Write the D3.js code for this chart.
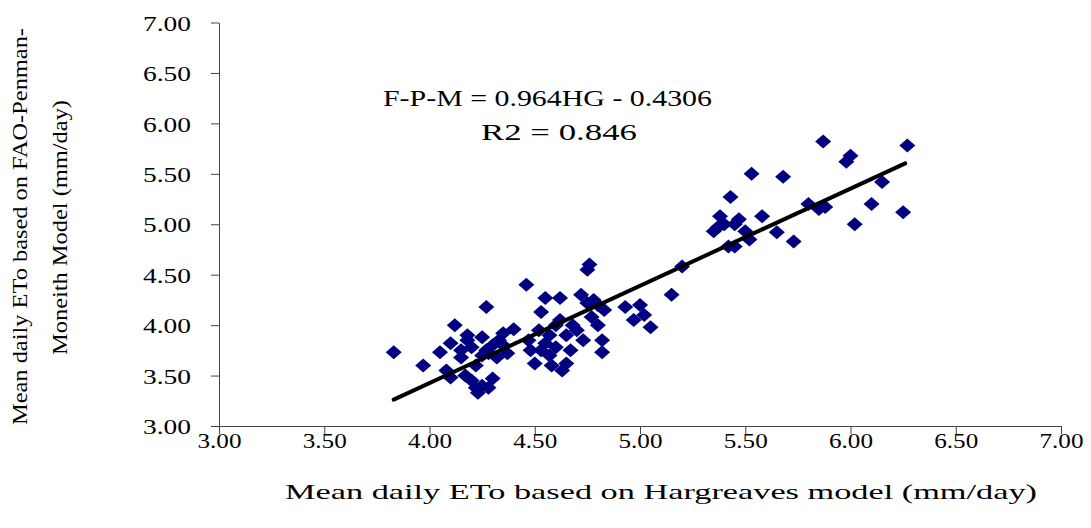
<!DOCTYPE html>
<html>
<head>
<meta charset="utf-8">
<script src="https://cdn.jsdelivr.net/npm/d3@7"></script>
<style>
  body { margin: 0; background: #fff; }
  svg text { font-family: "Liberation Serif", Tinos, "Times New Roman", Times, "Nimbus Roman", FreeSerif, serif; fill: #000; }
</style>
</head>
<body>
<svg id="drawing_region"></svg>
<script>
// Hargreaves (x) vs FAO-Penman-Monteith (y), mm/day
const hg = [
    3.83, 3.97, 4.05, 4.08, 4.10, 4.12, 4.10, 4.15, 4.17, 4.18, 4.20, 4.20, 4.22, 4.23, 4.22, 4.25,
    4.25, 4.27, 4.27, 4.28, 4.30, 4.30, 4.32, 4.33, 4.35, 4.37, 4.40, 4.18, 4.15, 4.28, 4.25, 4.35,
    4.46, 4.47, 4.48, 4.50, 4.52, 4.53, 4.53, 4.55, 4.55, 4.57, 4.58, 4.60, 4.60, 4.62, 4.62, 4.63,
    4.65, 4.65, 4.67, 4.68, 4.72, 4.73, 4.75, 4.76, 4.75, 4.77, 4.78, 4.80, 4.82, 4.82, 4.83, 4.80,
    4.57, 4.70,
    4.93, 4.97, 5.00, 5.02, 5.05, 5.15, 5.20,
    5.35, 5.37, 5.38, 5.40, 5.42, 5.43, 5.45, 5.45, 5.47, 5.50, 5.52, 5.53, 5.58, 5.65, 5.68, 5.73,
    5.80, 5.85, 5.87, 5.88, 5.98, 6.00, 6.02, 6.10, 6.15, 6.25, 6.27
];
const fpm = [
    3.73, 3.60, 3.73, 3.55, 3.48, 4.00, 3.82, 3.68, 3.50, 3.85, 3.78, 3.45, 3.38, 3.33, 3.60, 3.88,
    3.40, 3.75, 4.18, 3.72, 3.80, 3.47, 3.68, 3.85, 3.92, 3.72, 3.96, 3.90, 3.75, 3.38, 3.70, 3.80,
    4.40, 3.85, 3.75, 3.62, 3.95, 4.13, 3.75, 4.27, 3.82, 3.90, 3.60, 4.00, 3.78, 4.27, 4.05, 3.55,
    3.62, 3.90, 3.75, 4.00, 4.30, 3.85, 4.55, 4.60, 4.22, 4.08, 4.25, 4.00, 3.73, 3.85, 4.15, 4.20,
    3.70, 3.95,
    4.18, 4.05, 4.20, 4.10, 3.98, 4.30, 4.58,
    4.93, 4.97, 5.08, 5.00, 4.78, 5.27, 5.00, 4.78, 5.05, 4.93, 4.85, 5.50, 5.08, 4.92, 5.47, 4.83,
    5.20, 5.15, 5.82, 5.17, 5.62, 5.68, 5.00, 5.20, 5.42, 5.12, 5.78
];
const ticks = [3.0, 3.5, 4.0, 4.5, 5.0, 5.5, 6.0, 6.5, 7.0];
const slope = 0.964, intercept = -0.4306;
const fitRange = [3.83, 6.26];
const equation = ['F-P-M = 0.964HG - 0.4306', 'R2 = 0.846'];
const xTitle = 'Mean daily ETo based on Hargreaves model (mm/day)';
const yTitle = ['Mean daily ETo based on FAO-Penman-', 'Moneith Model (mm/day)'];

const data = hg.map((x, i) => ({x: x, y: fpm[i]}));

const width = 1091, height = 528;
const margin = {top: 22.5, right: 30, bottom: 102, left: 219};
const inner_width = 1061 - margin.left;
const inner_height = 426 - margin.top;

const svg = d3.select('#drawing_region')
    .attr('width', width)
    .attr('height', height);

const chart = svg.append('g')
    .attr('transform', `translate(${margin.left}, ${margin.top})`);

const xscale = d3.scaleLinear().domain([3, 7]).range([0, inner_width]);
const yscale = d3.scaleLinear().domain([3, 7]).range([inner_height, 0]);

const axisColor = '#444';

// x axis
const xaxis = d3.axisBottom(xscale).tickValues(ticks).tickSize(8).tickSizeOuter(0).tickFormat(d3.format('.2f'));
const xg = chart.append('g')
    .attr('transform', `translate(0, ${inner_height})`)
    .call(xaxis);
xg.select('.domain').attr('stroke', axisColor);
xg.selectAll('.tick line').attr('stroke', axisColor);
xg.selectAll('.tick text')
    .attr('y', 22).attr('dy', 0)
    .attr('x', -22)
    .attr('text-anchor', 'start')
    .attr('font-size', 22)
    .attr('font-family', null)
    .attr('textLength', 44).attr('lengthAdjust', 'spacingAndGlyphs');

// y axis
const yaxis = d3.axisLeft(yscale).tickValues(ticks).tickSize(8).tickSizeOuter(0).tickFormat(d3.format('.2f'));
const yg = chart.append('g').call(yaxis);
yg.select('.domain').attr('stroke', axisColor);
yg.selectAll('.tick line').attr('stroke', axisColor);
yg.selectAll('.tick text')
    .attr('x', -76).attr('dy', '0.35em')
    .attr('text-anchor', 'start')
    .attr('font-size', 22)
    .attr('font-family', null)
    .attr('textLength', 48).attr('lengthAdjust', 'spacingAndGlyphs');

// points
const diamond = 'M0,-7L8,0L0,7L-8,0Z';
chart.selectAll('path.pt')
    .data(data)
    .enter()
    .append('path')
    .attr('class', 'pt')
    .attr('d', diamond)
    .attr('transform', d => `translate(${xscale(d.x)}, ${yscale(d.y)})`)
    .attr('fill', '#000080');

// trend line
chart.append('line')
    .attr('x1', xscale(fitRange[0])).attr('y1', yscale(slope * fitRange[0] + intercept))
    .attr('x2', xscale(fitRange[1])).attr('y2', yscale(slope * fitRange[1] + intercept))
    .attr('stroke', '#000')
    .attr('stroke-width', 4)
    .attr('stroke-linecap', 'round');

// equation
svg.append('text')
    .attr('x', 383).attr('y', 106)
    .attr('font-size', 24)
    .attr('textLength', 329).attr('lengthAdjust', 'spacingAndGlyphs')
    .text(equation[0]);
svg.append('text')
    .attr('x', 481).attr('y', 140)
    .attr('font-size', 24)
    .attr('textLength', 156).attr('lengthAdjust', 'spacingAndGlyphs')
    .text(equation[1]);

// axis titles
svg.append('text')
    .attr('x', 285).attr('y', 499)
    .attr('font-size', 22)
    .attr('textLength', 752).attr('lengthAdjust', 'spacingAndGlyphs')
    .text(xTitle);

svg.append('text')
    .attr('transform', 'translate(27, 425) rotate(-90)')
    .attr('font-size', 20)
    .attr('textLength', 397).attr('lengthAdjust', 'spacingAndGlyphs')
    .text(yTitle[0]);
svg.append('text')
    .attr('transform', 'translate(67, 355) rotate(-90)')
    .attr('font-size', 20)
    .attr('textLength', 255).attr('lengthAdjust', 'spacingAndGlyphs')
    .text(yTitle[1]);
</script>
</body>
</html>
